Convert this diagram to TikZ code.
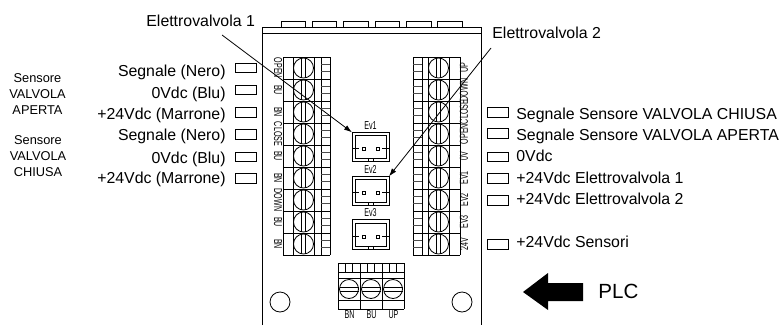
\documentclass[tikz,border=0pt]{standalone}
\usepackage{graphicx}
\usepackage{fontspec}
\setmainfont{Liberation Sans}
\usepackage{tikz}
\usetikzlibrary{arrows.meta}

\newcommand{\narrowtxt}[1]{\scalebox{0.62}[1]{#1}}

% one row of the left terminal block, #1 is the top of the row
\newcommand{\leftcell}[1]{
  \draw (283,#1) -- (330,#1);
  \draw (303.5,#1+11) circle (10);
  \draw (301.5,#1+1) -- (301.5,#1+21);
  \draw (305.5,#1+1) -- (305.5,#1+21);
  \draw[comb] (321,#1+7.3) -- (330,#1+7.3);
  \draw[comb] (321,#1+14.7) -- (330,#1+14.7);
}
% one row of the right terminal block
\newcommand{\rightcell}[1]{
  \draw (413,#1) -- (460,#1);
  \draw (438.5,#1+11) circle (10);
  \draw (436.5,#1+1) -- (436.5,#1+21);
  \draw (440.5,#1+1) -- (440.5,#1+21);
  \draw[comb] (413,#1+7.3) -- (422,#1+7.3);
  \draw[comb] (413,#1+14.7) -- (422,#1+14.7);
}
% one cell of the lower terminal block, #1 is its left side
\newcommand{\lowercell}[1]{
  \draw (#1,263) -- (#1,309);
  \draw (#1+7.3,263) -- (#1+7.3,272);
  \draw (#1+14.7,263) -- (#1+14.7,272);
  \draw (#1+11,289) circle (9.5);
  \draw (#1+1.5,287) -- (#1+20.5,287);
  \draw (#1+1.5,291) -- (#1+20.5,291);
}
% inside of a connector, #1 is the left side and #2 the top
\newcommand{\evinner}[2]{
  \draw (#1+3,#2+3) rectangle (#1+34,#2+26);
  \draw (#1,#2+16) -- (#1+7,#2+16);
  \draw (#1+30,#2+16) -- (#1+37,#2+16);
  \draw (#1+16,#2+26) -- (#1+16,#2+30);
  \draw (#1+21,#2+26) -- (#1+21,#2+30);
  \draw (#1+10.5,#2+15.5) rectangle (#1+13,#2+18);
  \draw (#1+24.5,#2+15.5) rectangle (#1+27,#2+18);
}

\tikzset{
  comb/.style={line width=0.7pt, color=black!70},
  pad/.style={draw, inner sep=0pt, outer sep=0pt, minimum width=15.75pt, minimum height=7.2pt},
  evbox/.style={draw, inner sep=0pt, outer sep=0pt, minimum width=27.75pt, minimum height=22pt},
  maintext/.style={font=\fontsize{11.9}{14}\selectfont, inner sep=0pt},
  sidetext/.style={font=\fontsize{9.6}{12}\selectfont, inner sep=0pt},
  pinlabel/.style={font=\fontsize{8.6}{9}\selectfont, inner sep=0pt},
}

\begin{document}
\begin{tikzpicture}[x=0.75pt, y=-0.75pt, line width=0.6pt]

\useasboundingbox (0,0) rectangle (780,325);

% board outline
\draw (262,325) -- (262,27.5) -- (481,27.5) -- (481,325);
\draw (262,33.5) -- (481,33.5);
\draw (281,27.5) -- (281,21) -- (305,21) -- (305,27.5);
\draw (312,27.5) -- (312,21) -- (336,21) -- (336,27.5);
\draw (343,27.5) -- (343,21) -- (368,21) -- (368,27.5);
\draw (375,27.5) -- (375,21) -- (399,21) -- (399,27.5);
\draw (406,27.5) -- (406,21) -- (431,21) -- (431,27.5);
\draw (437,27.5) -- (437,21) -- (462,21) -- (462,27.5);
\draw (280,302) circle (10);
\draw (462,302) circle (10);

% left terminal block
\draw (283,57) -- (283,255);
\draw (293,57) -- (293,255);
\draw (314,57) -- (314,255);
\draw (321,57) -- (321,255);
\draw (330,57) -- (330,255);
\leftcell{57}
\leftcell{79}
\leftcell{101}
\leftcell{123}
\leftcell{145}
\leftcell{167}
\leftcell{189}
\leftcell{211}
\leftcell{233}
\draw (283,255) -- (330,255);

% right terminal block
\draw (413,57) -- (413,255);
\draw (422,57) -- (422,255);
\draw (428,57) -- (428,255);
\draw (449,57) -- (449,255);
\draw (460,57) -- (460,255);
\rightcell{57}
\rightcell{79}
\rightcell{101}
\rightcell{123}
\rightcell{145}
\rightcell{167}
\rightcell{189}
\rightcell{211}
\rightcell{233}
\draw (413,255) -- (460,255);

% lower terminal block
\lowercell{338}
\lowercell{360}
\lowercell{382}
\draw (404,263) -- (404,309);
\draw (338,263) -- (404,263);
\draw (338,272) -- (404,272);
\draw (338,278) -- (404,278);
\draw (338,300) -- (404,300);
\draw (338,309) -- (404,309);

% pin labels of the blocks
\draw (278,68) node[pinlabel, rotate=-90] (pinopen) {\narrowtxt{OPEN}};
\draw (278,90) node[pinlabel, rotate=-90] (pinbua) {\narrowtxt{BU}};
\draw (278,112) node[pinlabel, rotate=-90] (pinbna) {\narrowtxt{BN}};
\draw (278,134) node[pinlabel, rotate=-90] (pinclose) {\narrowtxt{CLOSE}};
\draw (278,156) node[pinlabel, rotate=-90] (pinbub) {\narrowtxt{BU}};
\draw (278,178) node[pinlabel, rotate=-90] (pinbnb) {\narrowtxt{BN}};
\draw (278,200) node[pinlabel, rotate=-90] (pindown) {\narrowtxt{DOWN}};
\draw (278,222) node[pinlabel, rotate=-90] (pinbuc) {\narrowtxt{BU}};
\draw (278,244) node[pinlabel, rotate=-90] (pinbnc) {\narrowtxt{BN}};
\draw (464,68) node[pinlabel, rotate=90] (pinup) {\narrowtxt{UP}};
\draw (464,90) node[pinlabel, rotate=90] (pindownr) {\narrowtxt{DOWN}};
\draw (464,112) node[pinlabel, rotate=90] (pincloser) {\narrowtxt{CLOSE}};
\draw (464,134) node[pinlabel, rotate=90] (pinopenr) {\narrowtxt{OPEN}};
\draw (464,156) node[pinlabel, rotate=90] (pinzero) {\narrowtxt{0V}};
\draw (464,178) node[pinlabel, rotate=90] (pinevone) {\narrowtxt{EV1}};
\draw (464,200) node[pinlabel, rotate=90] (pinevtwo) {\narrowtxt{EV2}};
\draw (464,222) node[pinlabel, rotate=90] (pinevthree) {\narrowtxt{EV3}};
\draw (464,244) node[pinlabel, rotate=90] (pintwentyfour) {\narrowtxt{24V}};
\draw (349.5,315) node[pinlabel] (pinbnl) {\narrowtxt{BN}};
\draw (371.5,315) node[pinlabel] (pinbul) {\narrowtxt{BU}};
\draw (393.5,315) node[pinlabel] (pinupl) {\narrowtxt{UP}};

% connectors
\draw (370.5,147) node[evbox] (evone) {};
\draw (370.5,191) node[evbox] (evtwo) {};
\draw (370.5,234.5) node[evbox] (evthree) {};
\evinner{352}{132}
\evinner{352}{176}
\evinner{352}{220}
\draw (370.5,126) node[pinlabel] (evonetxt) {\narrowtxt{Ev1}};
\draw (370.5,169) node[pinlabel] (evtwotxt) {\narrowtxt{Ev2}};
\draw (370.5,213) node[pinlabel] (evthreetxt) {\narrowtxt{Ev3}};

% pads on the left
\draw (245.5,68) node[pad] (padla) {};
\draw (245.5,90) node[pad] (padlb) {};
\draw (245.5,112.5) node[pad] (padlc) {};
\draw (245.5,134.5) node[pad] (padld) {};
\draw (245.5,157) node[pad] (padle) {};
\draw (245.5,178.5) node[pad] (padlf) {};

% pads on the right
\draw (497.5,112.5) node[pad] (padra) {};
\draw (497.5,133.5) node[pad] (padrb) {};
\draw (497.5,157) node[pad] (padrc) {};
\draw (497.5,178.5) node[pad] (padrd) {};
\draw (497.5,200.5) node[pad] (padre) {};
\draw (497.5,244.5) node[pad] (padrf) {};

% texts on the left
\draw (226,76) node[maintext, anchor=base east] (txtla) {Segnale (Nero)};
\draw (226,98) node[maintext, anchor=base east] (txtlb) {0Vdc (Blu)};
\draw (226,119) node[maintext, anchor=base east] (txtlc) {+24Vdc (Marrone)};
\draw (226,140) node[maintext, anchor=base east] (txtld) {Segnale (Nero)};
\draw (226,163) node[maintext, anchor=base east] (txtle) {0Vdc (Blu)};
\draw (226,183) node[maintext, anchor=base east] (txtlf) {+24Vdc (Marrone)};
\draw (37.5,82) node[sidetext, anchor=base] (apa) {Sensore};
\draw (37.5,98) node[sidetext, anchor=base] (apb) {VALVOLA};
\draw (37.5,114) node[sidetext, anchor=base] (apc) {APERTA};
\draw (38,144) node[sidetext, anchor=base] (cha) {Sensore};
\draw (38,160) node[sidetext, anchor=base] (chb) {VALVOLA};
\draw (38,176) node[sidetext, anchor=base] (chc) {CHIUSA};

% texts on the right
\draw (516,119) node[maintext, anchor=base west] (txtra) {Segnale Sensore VALVOLA CHIUSA};
\draw (516,140) node[maintext, anchor=base west] (txtrb) {Segnale Sensore VALVOLA APERTA};
\draw (516,161) node[maintext, anchor=base west] (txtrc) {0Vdc};
\draw (516,183) node[maintext, anchor=base west] (txtrd) {+24Vdc Elettrovalvola 1};
\draw (516,204) node[maintext, anchor=base west] (txtre) {+24Vdc Elettrovalvola 2};
\draw (516,247) node[maintext, anchor=base west] (txtrf) {+24Vdc Sensori};

% the two callouts
\draw (146,26) node[maintext, anchor=base west] (elvone) {Elettrovalvola 1};
\draw (492,38) node[maintext, anchor=base west] (elvtwo) {Elettrovalvola 2};
\coordinate (elvonefoot) at (222,35);
\coordinate (elvtwofoot) at (491,48);
\draw[-{Latex[length=6pt,width=4pt]}] (elvonefoot) -- (evone.north west);
\draw[-{Latex[length=6pt,width=4pt]}] (elvtwofoot) -- (evtwo.north east);

% PLC arrow
\fill (523,292) -- (548,273) -- (548,283) -- (583,283) -- (583,301) -- (548,301) -- (548,310) -- cycle;
\draw (598,298) node[anchor=base west, inner sep=0pt, font=\fontsize{15.4}{18}\selectfont] (plc) {PLC};

\end{tikzpicture}
\end{document}
